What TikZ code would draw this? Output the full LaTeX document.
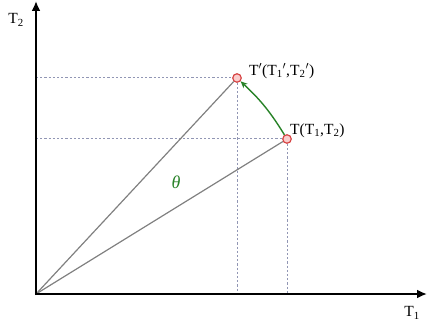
\documentclass[tikz,border=0pt]{standalone}
\usepackage{fontspec}
\setmainfont{Liberation Serif}
\usetikzlibrary{arrows.meta}
\definecolor{guide}{RGB}{145,150,180}
\definecolor{ptred}{RGB}{215,70,70}
\definecolor{ptfill}{RGB}{250,205,205}
\definecolor{rotgreen}{RGB}{40,130,40}
\tikzset{
  axis/.style={line width=2.3pt,-{Latex[length=10pt,width=9pt]}},
  ray/.style={gray,line width=1.2pt},
  guideline/.style={guide,line width=1pt,dash pattern=on 2.2pt off 2pt},
  point/.style={circle,draw=ptred,fill=ptfill,line width=1.2pt,minimum size=8.5pt,inner sep=0pt},
  lbl/.style={font=\fontsize{15.5}{15.5}\selectfont,inner sep=1pt}
}
\begin{document}
\begin{tikzpicture}[x=1pt,y=1pt]
			\useasboundingbox (0,0) rectangle (428,327);
			\coordinate (o) at (36,33);
			\coordinate (ytop) at (36,326);
			\coordinate (xend) at (427,33);
			\coordinate (tpy) at (36,249);
			\coordinate (tpx) at (237,33);
			\coordinate (ty) at (36,188);
			\coordinate (tx) at (287,33);
			\node[point] (tp) at (237,249) {};
			\node[point] (t) at (287,188) {};
			\draw[guideline] (tpy) -- (tp) -- (tpx);
			\draw[guideline] (ty) -- (t) -- (tx);
			\draw[ray] (o) -- (tp);
			\draw[ray] (o) -- (t);
			\draw[rotgreen,line width=1.4pt,-{Stealth[length=7pt,width=6pt]}] (t) to[bend right=7.7] (tp);
			\draw[axis] (36,31.8) -- (ytop);
			\draw[axis] (34.8,33) -- (xend);
			\node[lbl] (t2lbl) at (16,307) {T\textsubscript{2}};
			\node[lbl] (t1lbl) at (412,14) {T\textsubscript{1}};
			\node[lbl,anchor=west] (tplbl) at (248,256) {T$'$(T\textsubscript{1}$'$,T\textsubscript{2}$'$)};
			\node[lbl,anchor=west] (tlbl) at (289,196) {T(T\textsubscript{1},T\textsubscript{2})};
			\node[lbl,text=rotgreen,font=\fontsize{18}{18}\selectfont\itshape] (theta) at (176,145) {θ};
		\end{tikzpicture}
\end{document}
